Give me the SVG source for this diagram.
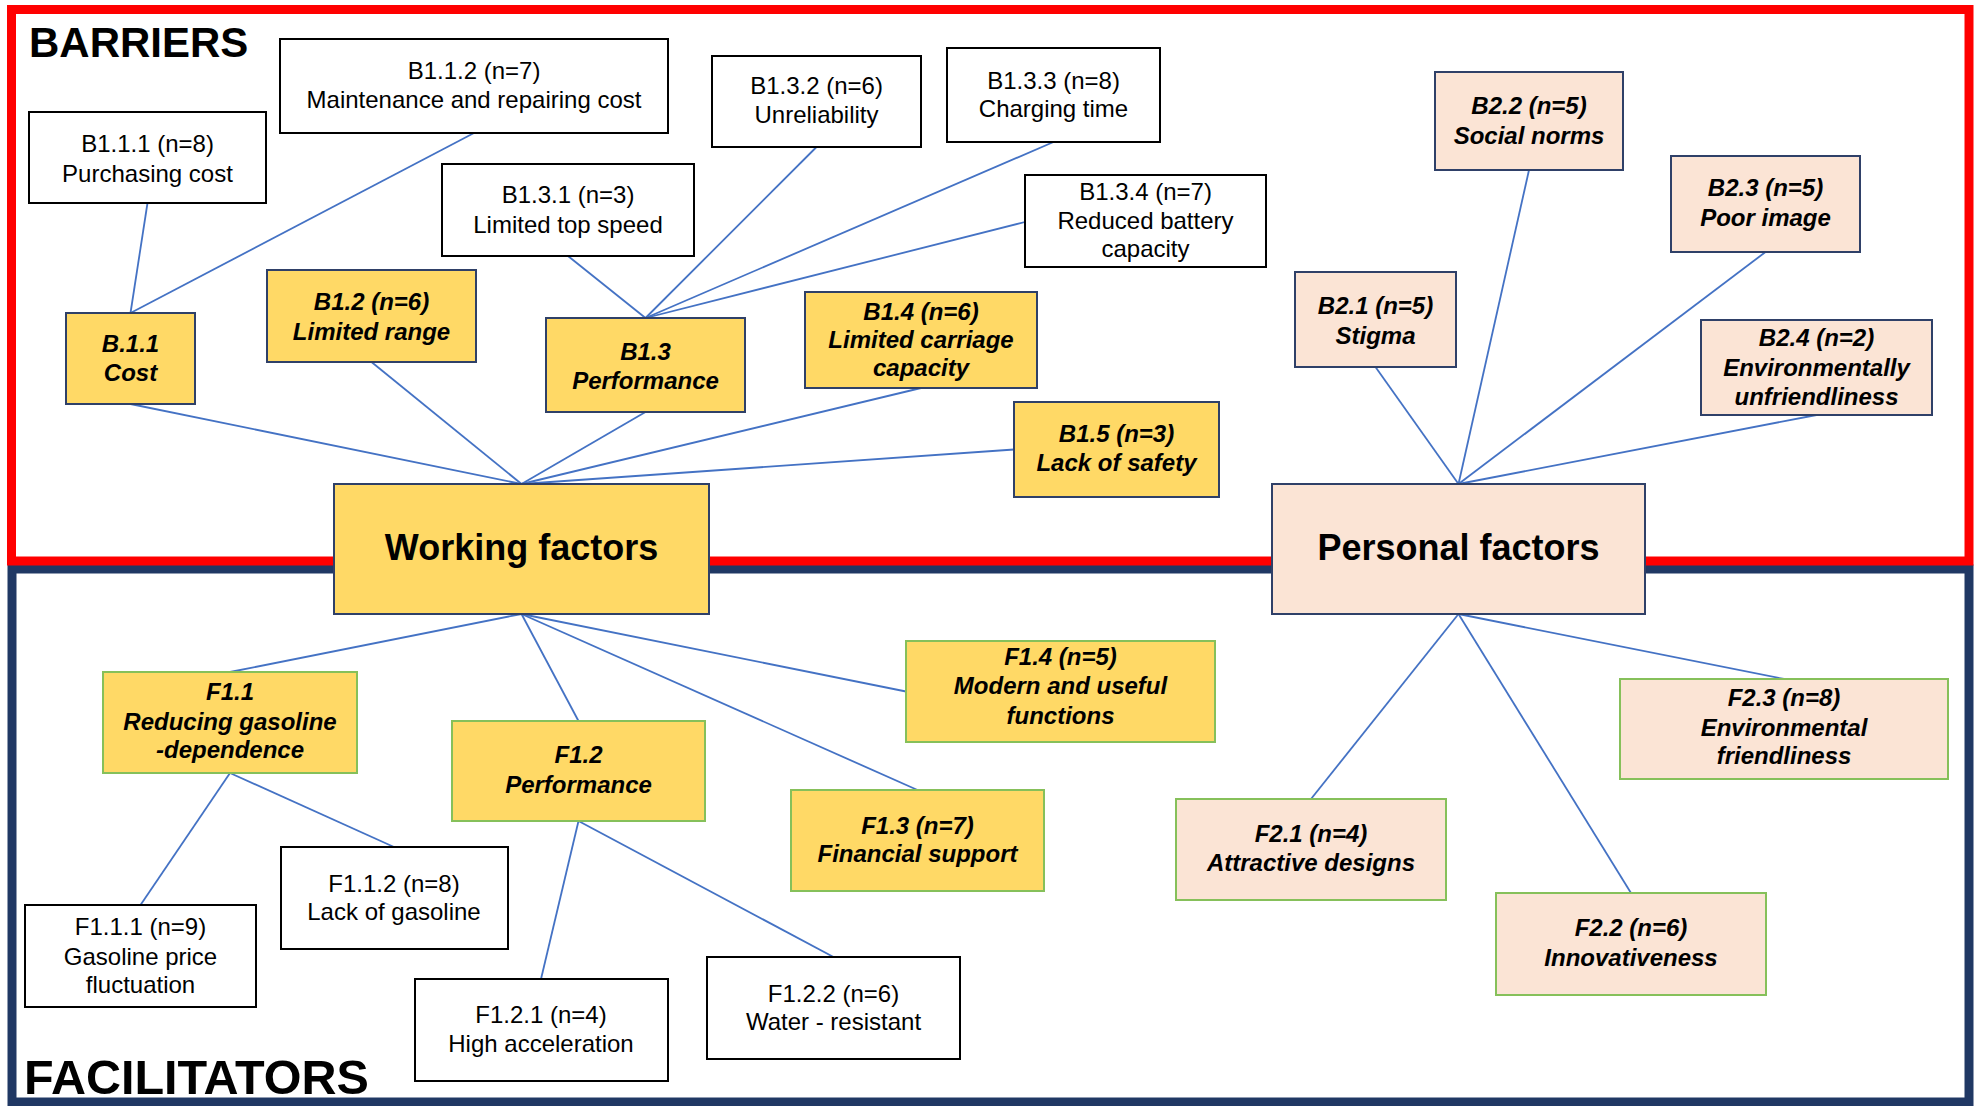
<svg xmlns="http://www.w3.org/2000/svg" width="1977" height="1106" viewBox="0 0 1977 1106">
<style>
text{font-family:"Liberation Sans",Arial,sans-serif;fill:#000;text-anchor:middle}
.t{font-size:24px}
.bi{font-size:24px;font-weight:bold;font-style:italic}
.big{font-size:36px;font-weight:bold}
.hdr{font-weight:bold;text-anchor:start}
.w{fill:#fff;stroke:#000;stroke-width:2}
.yb{fill:#FFD966;stroke:#2F4068;stroke-width:2}
.pb{fill:#FBE4D5;stroke:#2F4068;stroke-width:2}
.yf{fill:#FFD966;stroke:#86C05A;stroke-width:2}
.pf{fill:#FBE4D5;stroke:#86C05A;stroke-width:2}
#connectors line{stroke:#4472C4;stroke-width:1.8}
</style>
<rect width="1977" height="1106" fill="#fff"/>
<g id="frames">
<rect x="12" y="569" width="1957" height="533" fill="none" stroke="#203864" stroke-width="9"/>
<rect x="11.5" y="9.5" width="1957.5" height="551.5" fill="none" stroke="#FF0000" stroke-width="9"/>
<text class="hdr" x="29" y="57" font-size="42">BARRIERS</text>
<text class="hdr" x="24" y="1094" font-size="48.5">FACILITATORS</text>
</g>
<g id="connectors">
<line x1="130.5" y1="313" x2="147.5" y2="203"/>
<line x1="130.5" y1="313" x2="474" y2="133"/>
<line x1="645.5" y1="318" x2="568" y2="256"/>
<line x1="645.5" y1="318" x2="816.5" y2="147"/>
<line x1="645.5" y1="318" x2="1053.5" y2="142"/>
<line x1="645.5" y1="318" x2="1025" y2="222"/>
<line x1="521.5" y1="484" x2="130.5" y2="404"/>
<line x1="521.5" y1="484" x2="371.5" y2="362"/>
<line x1="521.5" y1="484" x2="645.5" y2="412"/>
<line x1="521.5" y1="484" x2="921" y2="388"/>
<line x1="521.5" y1="484" x2="1014" y2="449.5"/>
<line x1="1458.5" y1="484" x2="1375.5" y2="367"/>
<line x1="1458.5" y1="484" x2="1529" y2="170"/>
<line x1="1458.5" y1="484" x2="1765.5" y2="252"/>
<line x1="1458.5" y1="484" x2="1816.5" y2="415"/>
<line x1="521.5" y1="614" x2="230" y2="672"/>
<line x1="521.5" y1="614" x2="578.5" y2="721"/>
<line x1="521.5" y1="614" x2="917.5" y2="790"/>
<line x1="521.5" y1="614" x2="906" y2="691.5"/>
<line x1="1458.5" y1="614" x2="1311" y2="799"/>
<line x1="1458.5" y1="614" x2="1631" y2="893"/>
<line x1="1458.5" y1="614" x2="1784" y2="679"/>
<line x1="230" y1="773" x2="140.5" y2="905"/>
<line x1="230" y1="773" x2="394" y2="847"/>
<line x1="578.5" y1="821" x2="541" y2="979"/>
<line x1="578.5" y1="821" x2="833.5" y2="957"/>
</g>
<g id="B1.1.1"><rect class="w" x="29" y="112" width="237" height="91"/><text class="t" x="147.5" y="152">B1.1.1 (n=8)</text><text class="t" x="147.5" y="182">Purchasing cost</text></g>
<g id="B1.1.2"><rect class="w" x="280" y="39" width="388" height="94"/><text class="t" x="474" y="79">B1.1.2 (n=7)</text><text class="t" x="474" y="108">Maintenance and repairing cost</text></g>
<g id="B1.3.1"><rect class="w" x="442" y="164" width="252" height="92"/><text class="t" x="568" y="203">B1.3.1 (n=3)</text><text class="t" x="568" y="233">Limited top speed</text></g>
<g id="B1.3.2"><rect class="w" x="712" y="56" width="209" height="91"/><text class="t" x="816.5" y="94">B1.3.2 (n=6)</text><text class="t" x="816.5" y="123">Unreliability</text></g>
<g id="B1.3.3"><rect class="w" x="947" y="48" width="213" height="94"/><text class="t" x="1053.5" y="89">B1.3.3 (n=8)</text><text class="t" x="1053.5" y="117">Charging time</text></g>
<g id="B1.3.4"><rect class="w" x="1025" y="175" width="241" height="92"/><text class="t" x="1145.5" y="200">B1.3.4 (n=7)</text><text class="t" x="1145.5" y="229">Reduced battery</text><text class="t" x="1145.5" y="257">capacity</text></g>
<g id="B.1.1"><rect class="yb" x="66" y="313" width="129" height="91"/><text class="bi" x="130.5" y="352">B.1.1</text><text class="bi" x="130.5" y="381">Cost</text></g>
<g id="B1.2"><rect class="yb" x="267" y="270" width="209" height="92"/><text class="bi" x="371.5" y="310">B1.2 (n=6)</text><text class="bi" x="371.5" y="340">Limited range</text></g>
<g id="B1.3"><rect class="yb" x="546" y="318" width="199" height="94"/><text class="bi" x="645.5" y="360">B1.3</text><text class="bi" x="645.5" y="389">Performance</text></g>
<g id="B1.4"><rect class="yb" x="805" y="292" width="232" height="96"/><text class="bi" x="921" y="320">B1.4 (n=6)</text><text class="bi" x="921" y="348">Limited carriage</text><text class="bi" x="921" y="376">capacity</text></g>
<g id="B1.5"><rect class="yb" x="1014" y="402" width="205" height="95"/><text class="bi" x="1116.5" y="442">B1.5 (n=3)</text><text class="bi" x="1116.5" y="471">Lack of safety</text></g>
<g id="working-factors"><rect class="yb" x="334" y="484" width="375" height="130"/><text class="big" x="521.5" y="560">Working factors</text></g>
<g id="B2.1"><rect class="pb" x="1295" y="272" width="161" height="95"/><text class="bi" x="1375.5" y="314">B2.1 (n=5)</text><text class="bi" x="1375.5" y="344">Stigma</text></g>
<g id="B2.2"><rect class="pb" x="1435" y="72" width="188" height="98"/><text class="bi" x="1529" y="114">B2.2 (n=5)</text><text class="bi" x="1529" y="144">Social norms</text></g>
<g id="B2.3"><rect class="pb" x="1671" y="156" width="189" height="96"/><text class="bi" x="1765.5" y="196">B2.3 (n=5)</text><text class="bi" x="1765.5" y="226">Poor image</text></g>
<g id="B2.4"><rect class="pb" x="1701" y="320" width="231" height="95"/><text class="bi" x="1816.5" y="346">B2.4 (n=2)</text><text class="bi" x="1816.5" y="376">Environmentally</text><text class="bi" x="1816.5" y="405">unfriendliness</text></g>
<g id="personal-factors"><rect class="pb" x="1272" y="484" width="373" height="130"/><text class="big" x="1458.5" y="560">Personal factors</text></g>
<g id="F1.1"><rect class="yf" x="103" y="672" width="254" height="101"/><text class="bi" x="230" y="700">F1.1</text><text class="bi" x="230" y="730">Reducing gasoline</text><text class="bi" x="230" y="758">-dependence</text></g>
<g id="F1.2"><rect class="yf" x="452" y="721" width="253" height="100"/><text class="bi" x="578.5" y="763">F1.2</text><text class="bi" x="578.5" y="793">Performance</text></g>
<g id="F1.3"><rect class="yf" x="791" y="790" width="253" height="101"/><text class="bi" x="917.5" y="834">F1.3 (n=7)</text><text class="bi" x="917.5" y="862">Financial support</text></g>
<g id="F1.4"><rect class="yf" x="906" y="641" width="309" height="101"/><text class="bi" x="1060.5" y="665">F1.4 (n=5)</text><text class="bi" x="1060.5" y="694">Modern and useful</text><text class="bi" x="1060.5" y="724">functions</text></g>
<g id="F2.1"><rect class="pf" x="1176" y="799" width="270" height="101"/><text class="bi" x="1311" y="842">F2.1 (n=4)</text><text class="bi" x="1311" y="871">Attractive designs</text></g>
<g id="F2.2"><rect class="pf" x="1496" y="893" width="270" height="102"/><text class="bi" x="1631" y="936">F2.2 (n=6)</text><text class="bi" x="1631" y="966">Innovativeness</text></g>
<g id="F2.3"><rect class="pf" x="1620" y="679" width="328" height="100"/><text class="bi" x="1784" y="706">F2.3 (n=8)</text><text class="bi" x="1784" y="736">Environmental</text><text class="bi" x="1784" y="764">friendliness</text></g>
<g id="F1.1.1"><rect class="w" x="25" y="905" width="231" height="102"/><text class="t" x="140.5" y="935">F1.1.1 (n=9)</text><text class="t" x="140.5" y="965">Gasoline price</text><text class="t" x="140.5" y="993">fluctuation</text></g>
<g id="F1.1.2"><rect class="w" x="281" y="847" width="227" height="102"/><text class="t" x="394" y="892">F1.1.2 (n=8)</text><text class="t" x="394" y="920">Lack of gasoline</text></g>
<g id="F1.2.1"><rect class="w" x="415" y="979" width="253" height="102"/><text class="t" x="541" y="1023">F1.2.1 (n=4)</text><text class="t" x="541" y="1052">High acceleration</text></g>
<g id="F1.2.2"><rect class="w" x="707" y="957" width="253" height="102"/><text class="t" x="833.5" y="1002">F1.2.2 (n=6)</text><text class="t" x="833.5" y="1030">Water - resistant</text></g>
</svg>
